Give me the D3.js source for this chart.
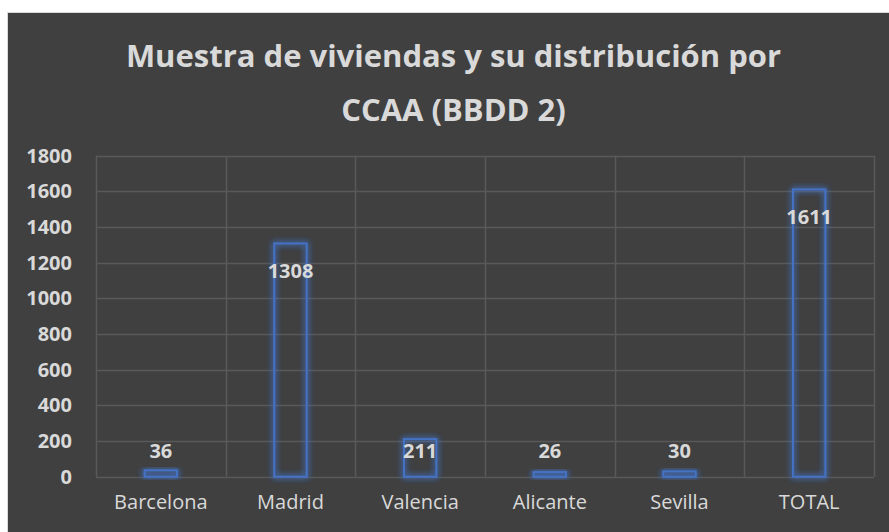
<!DOCTYPE html>
<html>
<head>
<meta charset="utf-8">
<script src="https://cdn.jsdelivr.net/npm/d3@7"></script>
<style>
  body { margin: 0; background: #fff; }
  svg { display: block; font-family: 'Open Sans', sans-serif; }
</style>
</head>
<body>
<svg id="chart" width="889" height="532"></svg>
<script>
const categories = ['Barcelona', 'Madrid', 'Valencia', 'Alicante', 'Sevilla', 'TOTAL'];
const values = [36, 1308, 211, 26, 30, 1611];
const yTicks = [0, 200, 400, 600, 800, 1000, 1200, 1400, 1600, 1800];
const titleLines = ['Muestra de viviendas y su distribución por', 'CCAA (BBDD 2)'];

const width = 889, height = 532;
const plot = { left: 96, right: 874, top: 155.7, bottom: 476.7 };
const textColor = '#d9d9d9';
const gridColor = '#595959';
const barColor = '#4472c4';

const svg = d3.select('#chart');

// glow round the bar outlines
const defs = svg.append('defs');
const glow = defs.append('filter').attr('id', 'glow')
  .attr('x', '-50%').attr('y', '-50%').attr('width', '200%').attr('height', '200%');
glow.append('feGaussianBlur').attr('in', 'SourceGraphic').attr('stdDeviation', 3).attr('result', 'blur');
const merge = glow.append('feMerge');
merge.append('feMergeNode').attr('in', 'blur');
merge.append('feMergeNode').attr('in', 'blur');
merge.append('feMergeNode').attr('in', 'SourceGraphic');

// panel
svg.append('rect')
  .attr('x', 7.5).attr('y', 12.5)
  .attr('width', width).attr('height', height)
  .attr('fill', '#404040')
  .attr('stroke', '#d9d9d9');

// title
svg.append('text')
  .attr('text-anchor', 'middle')
  .attr('fill', textColor)
  .attr('font-weight', 700)
  .attr('font-size', 31)
  .selectAll('tspan')
  .data(titleLines)
  .join('tspan')
  .attr('x', 453.5)
  .attr('y', (d, i) => 66.7 + i * 54)
  .text(d => d);

const x = d3.scaleBand()
  .domain(categories)
  .range([plot.left, plot.right])
  .paddingInner(0.75)
  .paddingOuter(0.375);

const xGrid = d3.scaleBand()
  .domain(categories)
  .range([plot.left, plot.right])
  .padding(0);

const y = d3.scaleLinear()
  .domain([0, 1800])
  .range([plot.bottom, plot.top]);

// horizontal gridlines
svg.append('g')
  .selectAll('line')
  .data(yTicks)
  .join('line')
  .attr('x1', plot.left).attr('x2', plot.right)
  .attr('y1', d => Math.round(y(d)) + 0.5)
  .attr('y2', d => Math.round(y(d)) + 0.5)
  .attr('stroke', gridColor)
  .attr('stroke-width', 1.5);

// vertical gridlines at category boundaries
const bounds = categories.map(c => xGrid(c)).concat([plot.right]);
svg.append('g')
  .selectAll('line')
  .data(bounds)
  .join('line')
  .attr('x1', d => Math.round(d) + 0.5).attr('x2', d => Math.round(d) + 0.5)
  .attr('y1', plot.top).attr('y2', plot.bottom)
  .attr('stroke', gridColor)
  .attr('stroke-width', 1.5);

// y axis labels
const yAxis = svg.append('g')
  .attr('transform', `translate(${plot.left}, 0)`)
  .call(d3.axisLeft(y).tickValues(yTicks).tickSize(0).tickPadding(24).tickFormat(d3.format('d')));
yAxis.select('.domain').remove();
yAxis.selectAll('text')
  .attr('fill', textColor)
  .attr('font-family', 'Open Sans')
  .attr('font-weight', 700)
  .attr('font-size', 20);

// x axis labels
const xAxis = svg.append('g')
  .attr('transform', `translate(0, ${plot.bottom})`)
  .call(d3.axisBottom(x).tickSize(0).tickPadding(18));
xAxis.select('.domain').remove();
xAxis.selectAll('text')
  .attr('fill', textColor)
  .attr('font-family', 'Open Sans')
  .attr('font-size', 20);

const data = categories.map((c, i) => ({ name: c, value: values[i] }));

// bars: outline only, with glow
svg.append('g')
  .selectAll('rect')
  .data(data)
  .join('rect')
  .attr('x', d => x(d.name))
  .attr('y', d => y(d.value))
  .attr('width', x.bandwidth())
  .attr('height', d => y(0) - y(d.value))
  .attr('fill', 'none')
  .attr('stroke', barColor)
  .attr('stroke-width', 2)
  .attr('filter', 'url(#glow)');

// data labels
svg.append('g')
  .selectAll('text')
  .data(data)
  .join('text')
  .attr('x', d => x(d.name) + x.bandwidth() / 2)
  .attr('y', d => Math.min(y(d.value) + 28, y(0) - 26))
  .attr('dy', '0.35em')
  .attr('text-anchor', 'middle')
  .attr('fill', textColor)
  .attr('font-weight', 700)
  .attr('font-size', 20)
  .text(d => d.value);
</script>
</body>
</html>
